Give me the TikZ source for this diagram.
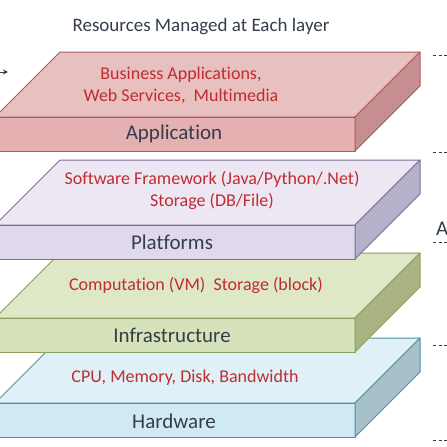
\documentclass[tikz,border=0pt]{standalone}
\usepackage{fontspec}
\setmainfont[Ligatures={NoCommon}]{Carlito}
\usetikzlibrary{arrows.meta}
\definecolor{pinkT}{RGB}{233,192,192}
\definecolor{pinkF}{RGB}{228,176,177}
\definecolor{pinkS}{RGB}{198,142,144}
\definecolor{pinkB}{RGB}{168,92,96}
\definecolor{lavT}{RGB}{236,231,243}
\definecolor{lavF}{RGB}{223,217,235}
\definecolor{lavS}{RGB}{182,176,202}
\definecolor{lavB}{RGB}{118,112,150}
\definecolor{grnT}{RGB}{222,231,198}
\definecolor{grnF}{RGB}{214,226,186}
\definecolor{grnS}{RGB}{170,180,130}
\definecolor{grnB}{RGB}{140,158,96}
\definecolor{bluT}{RGB}{223,241,247}
\definecolor{bluF}{RGB}{208,234,244}
\definecolor{bluS}{RGB}{166,193,202}
\definecolor{bluB}{RGB}{74,146,166}
\definecolor{redtxt}{RGB}{190,45,48}
\definecolor{darktxt}{RGB}{52,62,74}
\tikzset{
  res/.style={text=redtxt, font=\fontsize{18}{22}\selectfont, align=center, inner sep=0pt},
  lay/.style={text=darktxt, font=\fontsize{21}{24}\selectfont, inner sep=0pt},
  ttl/.style={text=darktxt, font=\fontsize{19}{22}\selectfont, inner sep=0pt},
  dsh/.style={dashed, dash pattern=on 3pt off 2.5pt, line width=0.8pt, draw=darktxt},
  face/.style={line width=1pt, line join=round}
}
% #1 back y, #2 top, #3 front, #4 side, #5 border
\newcommand{\myslab}[5]{%
  \pgfmathsetmacro{\yb}{#1}%
  \pgfmathsetmacro{\yt}{#1+65}%
  \pgfmathsetmacro{\ybot}{#1+99}%
  \pgfmathsetmacro{\ysb}{#1+34}%
  \filldraw[face, fill=#2, draw=#5] (-5,\yt) -- (355,\yt) -- (420,\yb) -- (60,\yb) -- cycle;
  \filldraw[face, fill=#3, draw=#5] (-5,\yt) rectangle (355,\ybot);
  \filldraw[face, fill=#4, draw=#5] (355,\yt) -- (420,\yb) -- (420,\ysb) -- (355,\ybot) -- cycle;
}
\begin{document}
\begin{tikzpicture}[x=1pt,y=-1pt]
\useasboundingbox (0,0) rectangle (447,447);
\clip (0,0) rectangle (447,447);
\fill[white] (0,0) rectangle (447,447);
\node[ttl] (title) at (201,27) {Resources Managed at Each layer};
% slabs bottom to top
\myslab{338}{bluT}{bluF}{bluS}{bluB}
\myslab{253}{grnT}{grnF}{grnS}{grnB}
\myslab{160}{lavT}{lavF}{lavS}{lavB}
\myslab{52}{pinkT}{pinkF}{pinkS}{pinkB}
% texts
\node[res] (r1) at (181,85) {Business Applications,\\Web Services,\ \ Multimedia};
\node[lay] (l1) at (174,134) {Application};
\node[res] (r2) at (212,190) {Software Framework (Java/Python/.Net)\\Storage (DB/File)};
\node[lay] (l2) at (172,242) {Platforms};
\node[res] (r3) at (196,285) {Computation (VM)\ \ Storage (block)};
\node[lay] (l3) at (172,335) {Infrastructure};
\node[res] (r4) at (185,378) {CPU, Memory, Disk, Bandwidth};
\node[lay] (l4) at (174,421) {Hardware};
% right side
\node[lay, anchor=west] (aa) at (436,229) {A};
\foreach \yy/\nm in {55/d1,152/d2,242/d3,345/d4,440/d5}{
  \coordinate (\nm a) at (433,\yy);
  \coordinate (\nm b) at (450,\yy);
  \draw[dsh] (\nm a) -- (\nm b);
}
% left arrow stub
\coordinate (arA) at (-6,72);
\coordinate (arB) at (8,72);
\draw[darktxt, line width=0.9pt, -{Stealth[length=5pt,width=5pt,open]}] (arA) -- (arB);
\end{tikzpicture}
\end{document}
